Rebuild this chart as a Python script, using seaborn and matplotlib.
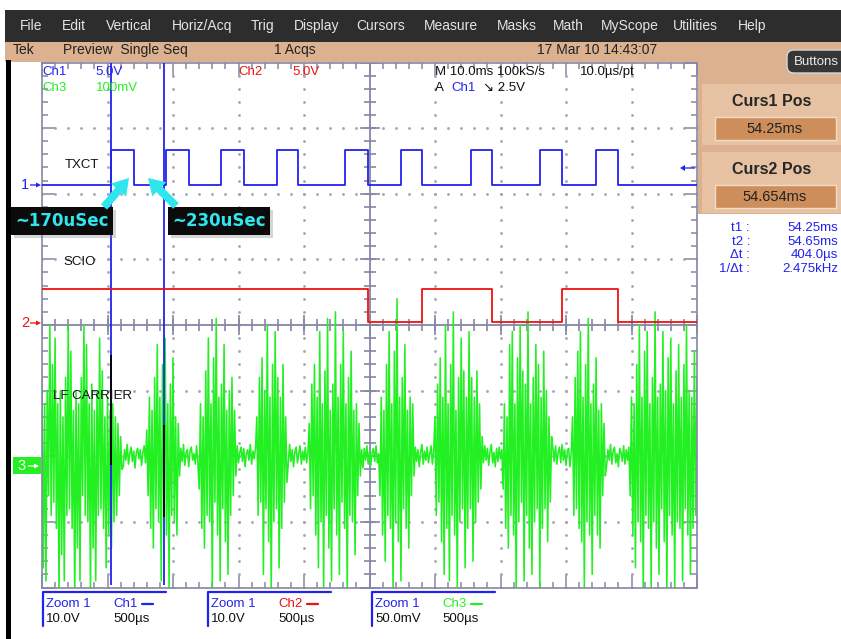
import numpy as np
import pandas as pd
import matplotlib
matplotlib.use("Agg")
import matplotlib.pyplot as plt
from matplotlib.transforms import Affine2D
from matplotlib.patches import Rectangle, FancyBboxPatch, FancyArrow
from matplotlib import font_manager
import seaborn as sns

# ---------------- acquisition values ----------------
ZOOM_START_MS = 53.723          # time at the left edge of the zoom window
ZOOM_DIV_US = 500               # zoom horizontal scale (per division)
N_HDIV, N_VDIV = 10, 8
CURSOR_MS = [54.25, 54.654]     # Curs1 Pos / Curs2 Pos

# Ch1 (TXCT): edge times in microseconds from the left edge, levels in volts
CH1_RISE_US = [527, 947, 1366, 1794, 2313, 2740, 3275, 3802, 4229]
CH1_FALL_US = [702, 1122, 1542, 1954, 2489, 2901, 3435, 3969, 4397]
CH1_LOW_V, CH1_HIGH_V = 0.0, 5.3
CH1_POS_DIV, CH1_ZOOM_V = 2.13, 10.0

# Ch2 (SCIO): starts high and toggles at each listed time
CH2_TOGGLE_US = [2489, 2901, 3435, 3969, 4397]
CH2_LOW_V, CH2_HIGH_V = 0.5, 5.5
CH2_POS_DIV, CH2_ZOOM_V = 0.0, 10.0

# Ch3 (LF CARRIER): samples in mV, one every 10 us, burst / quiet segments
CH3_STEP_US = 10
CH3_POS_DIV, CH3_ZOOM_MV = -2.0, 50.0
ch3_burst_a = [60, -85, 40, -95, 50, -30, 100, -45, 70, -35, 90, -55, 40, -105, 50, -75,
               30, -95, 60, -45, 100, -40, 80, -55, 35, -110, 50, -70, 40, -95, 60, -30,
               100, -45, 85, -50, 40, -105, 55, -70, 35, -95, 50, -45, 90, -40, 65, -55,
               30, -85, 45, -60, 35, -70, 40, -50, 30, -45, 25, -30, 15, -10]
ch3_quiet_1 = [-8, 5, -3, 9, -6, 2, 7, -4, 4, -9, 3, 6, -2, 5, -7, 3, 8, -5]
ch3_burst_b = [20, -30, 45, -55, 35, -70, 60, -40, 85, -50, 45, -95, 70, -35, 90, -60,
               40, -100, 55, -45, 75, -50, 30, -60, 25, -15]
ch3_quiet_2 = [6, -4, 9, -7, 3, 5, -8, 4, 7, -3, 2, -6, 8, -5]
ch3_burst_c = [-25, 40, -55, 30, -70, 65, -45, 90, -50, 40, -100, 75, -35, 105, -60, 45,
               -95, 55, -40, 85, -65, 35, -90, 50, -45, 60, -30, 35, -15]
ch3_quiet_3 = [8, -5, 3, 7, -4, 6, -8, 2, 5, -3, 9, -6, 4, -2, 6]
ch3_burst_d = [30, -45, 60, -35, 75, -90, 50, -40, 100, -65, 45, -105, 70, -50, 95, -40,
               60, -85, 45, -55, 70, -35, 30, -20]
ch3_quiet_4 = [-6, 9, -4, 5, -8, 3, 7, -5, 2, 8, -6, 4, -3, 7, -5, 3]
ch3_burst_e = [25, -40, 55, -30, 70, -60, 45, -85, 95, -50, 40, -100, 65, -45, 105, -70,
               35, -95, 55, -40, 110, -60, 45, -90, 70, -35, 95, -55, 40, -105, 60, -45,
               80, -50, 35, -75, 40, -30, 25, -15]
ch3_quiet_5 = [5, -9, 6, -3, 8, -6, 4, -7, 3, 6, -4, 8, -5, 2]
ch3_burst_f = [-30, 45, -60, 35, -80, 70, -45, 95, -55, 40, -105, 80, -50, 120, -65, 45,
               -95, 60, -40, 85, -55, 35, -70, 45, -30, 40, -15]
ch3_quiet_6 = [7, -4, 5, -8, 3, 9, -6, 4, -3, 7, -5, 2, 8, -6, 4]
ch3_burst_g = [30, -45, 55, -35, 75, -65, 45, -90, 100, -55, 40, -95, 70, -45, 110, -60,
               35, -100, 60, -50, 90, -40, 65, -85, 45, -55, 95, -40, 60, -80, 45, -50,
               65, -35, 40, -25, 15]
ch3_quiet_7 = [-5, 8, -3, 6, -7, 4, 9, -5, 3, -8, 6, -4, 7, -2, 5]
ch3_burst_h = [-25, 40, -55, 30, -70, 85, -45, 95, -60, 40, -105, 75, -50, 100, -35, 65,
               -95, 55, -45, 110, -70, 40, -90, 60, -50, 85, -40, 70, -100, 45, -55, 80,
               -40, 50, -65, 30, -35, 15]
ch3_quiet_8 = [6, -4, 8, -6, 3, 7, -5, 9, -3, 5, -7, 4, 6, -8, 3]
ch3_burst_i = [30, -45, 60, -40, 80, -55, 95, -65, 45, -100, 70, -50, 105, -60, 40, -90,
               55, -45, 75, -60, 35, -70, 40, -30, 25, -15]
ch3_quiet_9 = [-7, 5, -3, 9, -6, 4, 7, -5, 2, -8, 6, 3, -4, 8, -6, 5, -3, 7]
ch3_burst_j = [-30, 45, -60, 40, -85, 70, -50, 100, -65, 45, -105, 80, -45, 95, -55, 40,
               -100, 60, -50, 110, -70, 45, -90, 55, -40, 95, -65, 50, -105, 75, -45, 90,
               -60, 40, -100, 65, -50, 85, -55, 45, -95, 70, -40, 100, -60, 50, -90, 45,
               -55, 80, -45, 60]
CH3_SEGMENTS = [ch3_burst_a, ch3_quiet_1, ch3_burst_b, ch3_quiet_2, ch3_burst_c,
                ch3_quiet_3, ch3_burst_d, ch3_quiet_4, ch3_burst_e, ch3_quiet_5,
                ch3_burst_f, ch3_quiet_6, ch3_burst_g, ch3_quiet_7, ch3_burst_h,
                ch3_quiet_8, ch3_burst_i, ch3_quiet_9, ch3_burst_j]

MENU_ITEMS = ["File", "Edit", "Vertical", "Horiz/Acq", "Trig", "Display", "Cursors",
              "Measure", "Masks", "Math", "MyScope", "Utilities", "Help"]
MENU_X = [20, 62, 106, 172, 251, 294, 356, 424, 497, 553, 601, 673, 738]
CURSOR_READOUT = [("t1 :", "54.25ms"), ("t2 :", "54.65ms"),
                  ("\u0394t :", "404.0\u00b5s"), ("1/\u0394t :", "2.475kHz")]
ZOOM_READOUT = [("Ch1", "10.0V", "500\u00b5s"), ("Ch2", "10.0V", "500\u00b5s"),
                ("Ch3", "50.0mV", "500\u00b5s")]

# ---------------- colours ----------------
BLUE, RED, GREEN = "#2222ee", "#ee1111", "#22f022"
GRID = "#8686a6"
TAN, PANEL, VALBOX = "#dbb190", "#e6c2a2", "#cd8e5c"
CYAN = "#30e6ee"

W, H = 841, 639
X0, X1, Y0, Y1 = 42.0, 697.0, 62.5, 587.5      # graticule frame in pixels

sns.set_theme(style="white")
names = {f.name for f in font_manager.fontManager.ttflist}
UI_FONT = "Liberation Sans" if "Liberation Sans" in names else "DejaVu Sans"
plt.rcParams["font.family"] = [UI_FONT, "DejaVu Sans"]

fig = plt.figure(figsize=(W / 100, H / 100), dpi=100)
fig.patch.set_facecolor("white")
PX = Affine2D().scale(1.0 / W, -1.0 / H).translate(0, 1) + fig.transFigure


def rect(x, y, w, h, **kw):
    fig.add_artist(Rectangle((x, y), w, h, transform=PX, **kw))


def text(x, y, s, **kw):
    kw.setdefault("va", "center")
    kw.setdefault("fontsize", 9.5)
    fig.text(x, y, s, transform=PX, **kw)


def arrow(x, y, dx, dy, color, width, hw, hl, z=6):
    fig.add_artist(FancyArrow(x, y, dx, dy, width=width, head_width=hw, head_length=hl,
                              length_includes_head=True, color=color, lw=0,
                              transform=PX, zorder=z))


# ---------------- traces ----------------
span_us = ZOOM_DIV_US * N_HDIV

t1, v1 = [0], [CH1_LOW_V]
for r, f in zip(CH1_RISE_US, CH1_FALL_US):
    t1 += [r, r, f, f]
    v1 += [CH1_LOW_V, CH1_HIGH_V, CH1_HIGH_V, CH1_LOW_V]
t1.append(span_us); v1.append(CH1_LOW_V)
ch1 = pd.DataFrame({"t_us": t1, "div": np.array(v1) / CH1_ZOOM_V + CH1_POS_DIV})

t2, v2 = [0], [CH2_HIGH_V]
level = CH2_HIGH_V
for e in CH2_TOGGLE_US:
    nxt = CH2_LOW_V if level == CH2_HIGH_V else CH2_HIGH_V
    t2 += [e, e]; v2 += [level, nxt]
    level = nxt
t2.append(span_us); v2.append(level)
ch2 = pd.DataFrame({"t_us": t2, "div": np.array(v2) / CH2_ZOOM_V + CH2_POS_DIV})

mv = np.concatenate([np.asarray(s, float) for s in CH3_SEGMENTS])
ch3 = pd.DataFrame({"t_us": np.arange(len(mv)) * CH3_STEP_US,
                    "div": mv / CH3_ZOOM_MV + CH3_POS_DIV})

ax = fig.add_axes([X0 / W, 1 - Y1 / H, (X1 - X0) / W, (Y1 - Y0) / H])
ax.set_facecolor("white")
ax.set_xlim(0, span_us)
ax.set_ylim(-N_VDIV / 2, N_VDIV / 2)

# graticule: dotted division lines and centre cross with ticks
DOT = "#a4a4b4"
for k in range(1, N_HDIV):
    if k == N_HDIV // 2:
        continue
    ys = np.arange(-4, 4.001, 0.2)
    ax.plot(np.full_like(ys, k * ZOOM_DIV_US), ys, ls="none", marker="s", ms=0.9,
            color=DOT, zorder=1)
for j in range(-3, 4):
    if j == 0:
        continue
    xs = np.arange(0, span_us + 1, ZOOM_DIV_US / 5)
    ax.plot(xs, np.full_like(xs, j), ls="none", marker="s", ms=0.9, color=DOT, zorder=1)
ax.axhline(0, color=GRID, lw=1.3, zorder=1)
ax.axvline(span_us / 2, color=GRID, lw=1.3, zorder=1)
xs = np.arange(0, span_us + 1, ZOOM_DIV_US / 5)
ax.plot(xs, np.zeros_like(xs), ls="none", marker="|", ms=9, mew=1.2, color=GRID, zorder=1)
xm = np.arange(0, span_us + 1, ZOOM_DIV_US)
ax.plot(xm, np.zeros_like(xm), ls="none", marker="|", ms=15, mew=1.2, color=GRID, zorder=1)
ys = np.arange(-4, 4.001, 0.2)
ax.plot(np.full_like(ys, span_us / 2), ys, ls="none", marker="_", ms=9, mew=1.2, color=GRID, zorder=1)
ym = np.arange(-4, 5, 1.0)
ax.plot(np.full_like(ym, span_us / 2), ym, ls="none", marker="_", ms=15, mew=1.2, color=GRID, zorder=1)

sns.lineplot(data=ch3, x="t_us", y="div", ax=ax, color=GREEN, lw=1.15,
             estimator=None, sort=False, legend=False, zorder=2)

cursor_us = [(c - ZOOM_START_MS) * 1000 for c in CURSOR_MS]
ax.vlines(cursor_us, -3.96, 4, color=BLUE, lw=1.3, zorder=3)
ax.vlines(cursor_us[0], -2.14, -0.46, color="black", lw=1.3, zorder=3.1)
ax.vlines(cursor_us[1], -2.93, -1.53, color="black", lw=1.3, zorder=3.1)

sns.lineplot(data=ch2, x="t_us", y="div", ax=ax, color=RED, lw=1.3,
             estimator=None, sort=False, legend=False, zorder=4)
sns.lineplot(data=ch1, x="t_us", y="div", ax=ax, color=BLUE, lw=1.3,
             estimator=None, sort=False, legend=False, zorder=4)

ax.set_xlabel(""); ax.set_ylabel("")
ax.set_xticks(np.arange(0, span_us + 1, ZOOM_DIV_US))
ax.set_xticks(np.arange(0, span_us + 1, ZOOM_DIV_US / 5), minor=True)
ax.set_yticks(np.arange(-4, 5, 1.0))
ax.set_yticks(np.arange(-4, 4.001, 0.2), minor=True)
ax.tick_params(which="both", direction="in", top=True, bottom=True, left=True, right=True,
               labelbottom=False, labelleft=False, color=GRID, width=1.1)
ax.tick_params(which="major", length=9.5)
ax.tick_params(which="minor", length=4.3)
for sp in ax.spines.values():
    sp.set_color(GRID); sp.set_linewidth(1.2); sp.set_visible(True)

# ---------------- window chrome ----------------
rect(5, 10, W - 5, 32, facecolor="#2d2d2d", lw=0, zorder=1)
for name, x in zip(MENU_ITEMS, MENU_X):
    text(x, 26, name, color="#e4e4e4", fontsize=10)
rect(5, 42, W - 5, 19.5, facecolor=TAN, lw=0, zorder=1)
text(13, 50, "Tek", fontsize=10, color="#222222")
text(63, 50, "Preview  Single Seq", fontsize=10, color="#222222")
text(274, 50, "1 Acqs", fontsize=10, color="#222222")
text(537, 50, "17 Mar 10 14:43:07", fontsize=10, color="#222222")
rect(6, 60, 5, H - 60, facecolor="black", lw=0, zorder=1)

# right-hand cursor panel
rect(698, 61, W - 698, 153, facecolor=TAN, lw=0, zorder=1)
fig.add_artist(FancyBboxPatch((787, 50), 62, 23, boxstyle="round,pad=0,rounding_size=7",
                              facecolor="#363636", edgecolor="#d8d8d8", lw=1,
                              transform=PX, zorder=2))
text(816, 62, "Buttons", ha="center", color="#ececec", fontsize=9.5, zorder=3)
for i, (title, val) in enumerate([("Curs1 Pos", CURSOR_MS[0]), ("Curs2 Pos", CURSOR_MS[1])]):
    y = 84 + i * 68
    rect(702, y, W - 702, 61, facecolor=PANEL, lw=0, zorder=2)
    text(772, y + 17, title, ha="center", fontsize=11.5, fontweight="bold", color="#262626", zorder=3)
    rect(715, y + 33, 121, 23, facecolor=VALBOX, edgecolor="#f2dcc8", lw=1, zorder=3)
    vstr = f"{val:.2f}ms" if i == 0 else f"{val:.3f}ms"
    text(775, y + 45, vstr, ha="center", fontsize=10.5, color="#222222", zorder=4)
for i, (lab, val) in enumerate(CURSOR_READOUT):
    y = 228 + i * 13.7
    text(750, y, lab, ha="right", color=BLUE, fontsize=9.5)
    text(838, y, val, ha="right", color=BLUE, fontsize=9.5)

# on-screen readouts
text(42, 72, "Ch1", color=BLUE, zorder=5)
text(95, 72, "5.0V", color=BLUE, zorder=5)
text(238, 72, "Ch2", color=RED, zorder=5)
text(292, 72, "5.0V", color=RED, zorder=5)
text(42, 88, "Ch3", color=GREEN, zorder=5)
text(96, 88, "100mV", color=GREEN, zorder=5)
text(435, 72, "M 10.0ms 100kS/s", color="#111111", zorder=5)
text(580, 72, "10.0\u00b5s/pt", color="#111111", zorder=5)
text(435, 88, "A", color="#111111", zorder=5)
text(451, 88, "Ch1", color=BLUE, zorder=5)
text(483, 88, "\u2198 2.5V", color="#111111", zorder=5)

text(65, 165, "TXCT", color="#111111", zorder=5)
text(63, 262, "SCIO", color="#111111", zorder=5)
text(53, 396, "LF CARRIER", color="#111111", zorder=5)

# channel ground markers and trigger level
text(25, 185, "1", color=BLUE, fontsize=10.5, ha="center")
arrow(30, 185, 11, 0, BLUE, 1.3, 5, 5)
text(25, 323, "2", color=RED, fontsize=10.5, ha="center")
arrow(30, 323, 11, 0, RED, 1.3, 5, 5)
rect(13, 457, 28, 17, facecolor=GREEN, lw=0, zorder=2)
text(22, 466, "3", color="white", fontsize=10.5, ha="center", zorder=3)
arrow(28, 466, 11, 0, "white", 1.3, 5, 5, z=4)
arrow(695, 168, -15, 0, BLUE, 1.3, 6, 5)

# zoom readouts at the bottom
for i, (ch, vs, ts) in enumerate(ZOOM_READOUT):
    x = [42, 207, 371][i]
    col = [BLUE, RED, GREEN][i]
    fig.add_artist(plt.Line2D([x + 1, x + 1, x + 124], [626, 592, 592], color=BLUE, lw=1.6,
                              transform=PX))
    text(x + 4, 604, "Zoom 1", color=BLUE)
    text(x + 71, 604, ch, color=col)
    fig.add_artist(plt.Line2D([x + 100, x + 111], [604, 604], color=col, lw=1.6, transform=PX))
    text(x + 4, 619, vs, color="#111111")
    text(x + 71, 619, ts, color="#111111")

# timing annotations
for bx, label in [(11, "~170uSec"), (168, "~230uSec")]:
    rect(bx + 3, 210, 102, 28, facecolor="#888888", alpha=0.35, lw=0, zorder=6)
    rect(bx, 207, 102, 28, facecolor="#0b0b0b", lw=0, zorder=7)
    text(bx + 51, 221, label, ha="center", color=CYAN, fontsize=12, fontweight="bold",
         family="DejaVu Sans", zorder=8)
arrow(104, 207, 25, -29, CYAN, 8, 20, 16, z=7)
arrow(176, 206, -28, -28, CYAN, 8, 20, 16, z=7)

fig.savefig("out.png", dpi=100, facecolor="white")
